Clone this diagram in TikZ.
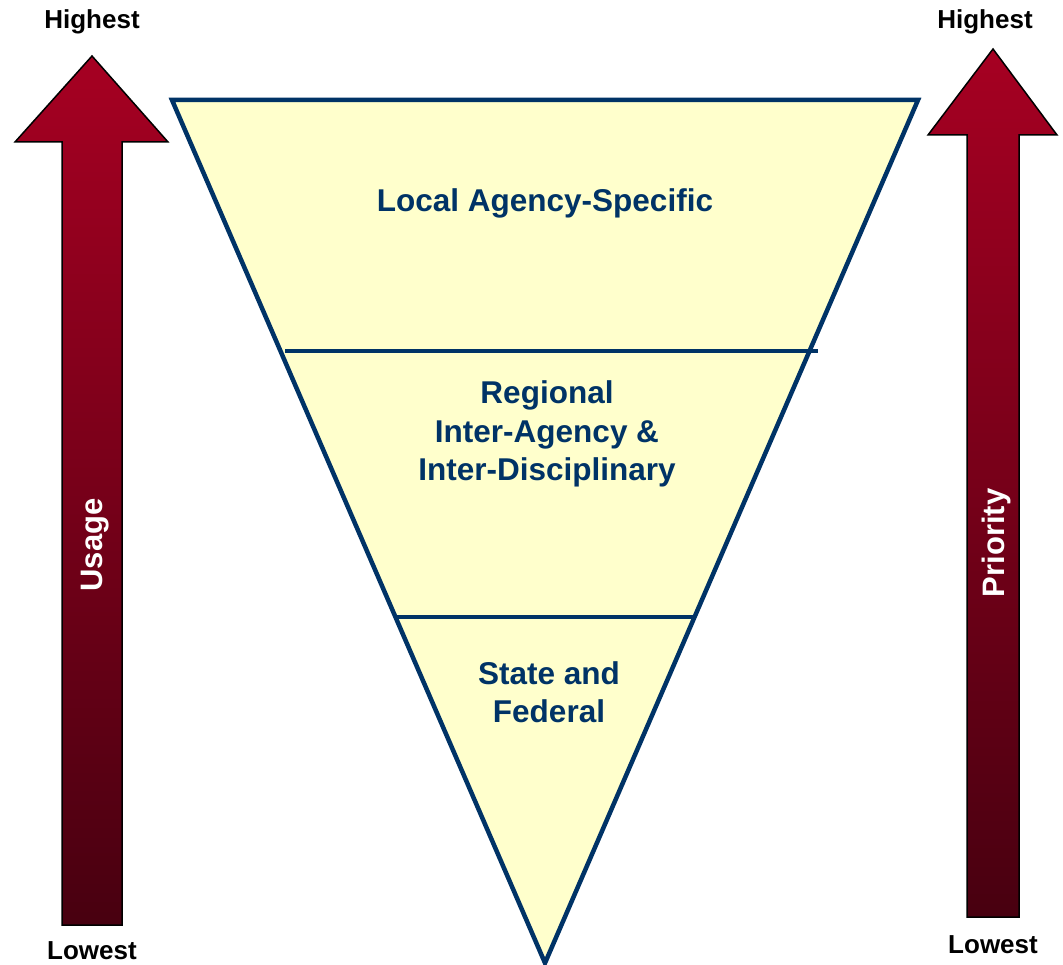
\documentclass[tikz,border=0pt]{standalone}
\usepackage{fontspec}
\setmainfont{Liberation Sans}
\definecolor{navy}{HTML}{003366}
\definecolor{paleyellow}{HTML}{FFFFCC}
\definecolor{arrowtop}{HTML}{A60022}
\definecolor{arrowbot}{HTML}{480010}
\tikzset{
  endlabel/.style={font=\fontsize{26}{30}\selectfont\bfseries, text=black, inner sep=0pt},
  tierlabel/.style={font=\fontsize{31.5}{38.5}\selectfont\bfseries, text=navy, align=center, inner sep=0pt},
  arrowlabel/.style={font=\fontsize{31}{36}\selectfont\bfseries, text=white, rotate=90, inner sep=0pt},
  bigarrow/.style={top color=arrowtop, bottom color=arrowbot, draw=black, line width=1.5pt, line join=miter},
  tier/.style={draw=navy, line width=4.5pt}
}
\begin{document}
\begin{tikzpicture}[x=1pt,y=-1pt]
\useasboundingbox (0,0) rectangle (1063,965);
% left arrow
\shade[bigarrow] (92,56) -- (168,142) -- (122,142) -- (122,925) -- (62,925) -- (62,142) -- (15,142) -- cycle;
% right arrow
\shade[bigarrow] (993,49) -- (1057,135) -- (1019,135) -- (1019,917) -- (967,917) -- (967,135) -- (928,135) -- cycle;
% triangle
\coordinate (tl) at (172,100);
\coordinate (tr) at (918,100);
\coordinate (bt) at (545,963);
\draw[tier, fill=paleyellow, line join=miter] (tl) -- (tr) -- (bt) -- cycle;
\coordinate (a1) at (285,351);
\coordinate (a2) at (818,351);
\coordinate (b1) at (397,617);
\coordinate (b2) at (693,617);
\draw[tier] (a1) -- (a2);
\draw[tier] (b1) -- (b2);
% labels
\node[endlabel] (lh) at (92,22) {Highest};
\node[endlabel] (ll) at (92,951) {Lowest};
\node[endlabel] (rh) at (985,22) {Highest};
\node[endlabel] (rl) at (993,945) {Lowest};
\node[arrowlabel] (usage) at (95,545) {Usage};
\node[arrowlabel] (prio) at (996,543) {Priority};
\node[tierlabel] (t1) at (545,203) {Local Agency-Specific};
\node[tierlabel] (t2) at (547,434) {Regional\\Inter-Agency \&\\Inter-Disciplinary};
\node[tierlabel] (t3) at (549,692) {State and\\Federal};
\end{tikzpicture}
\end{document}
